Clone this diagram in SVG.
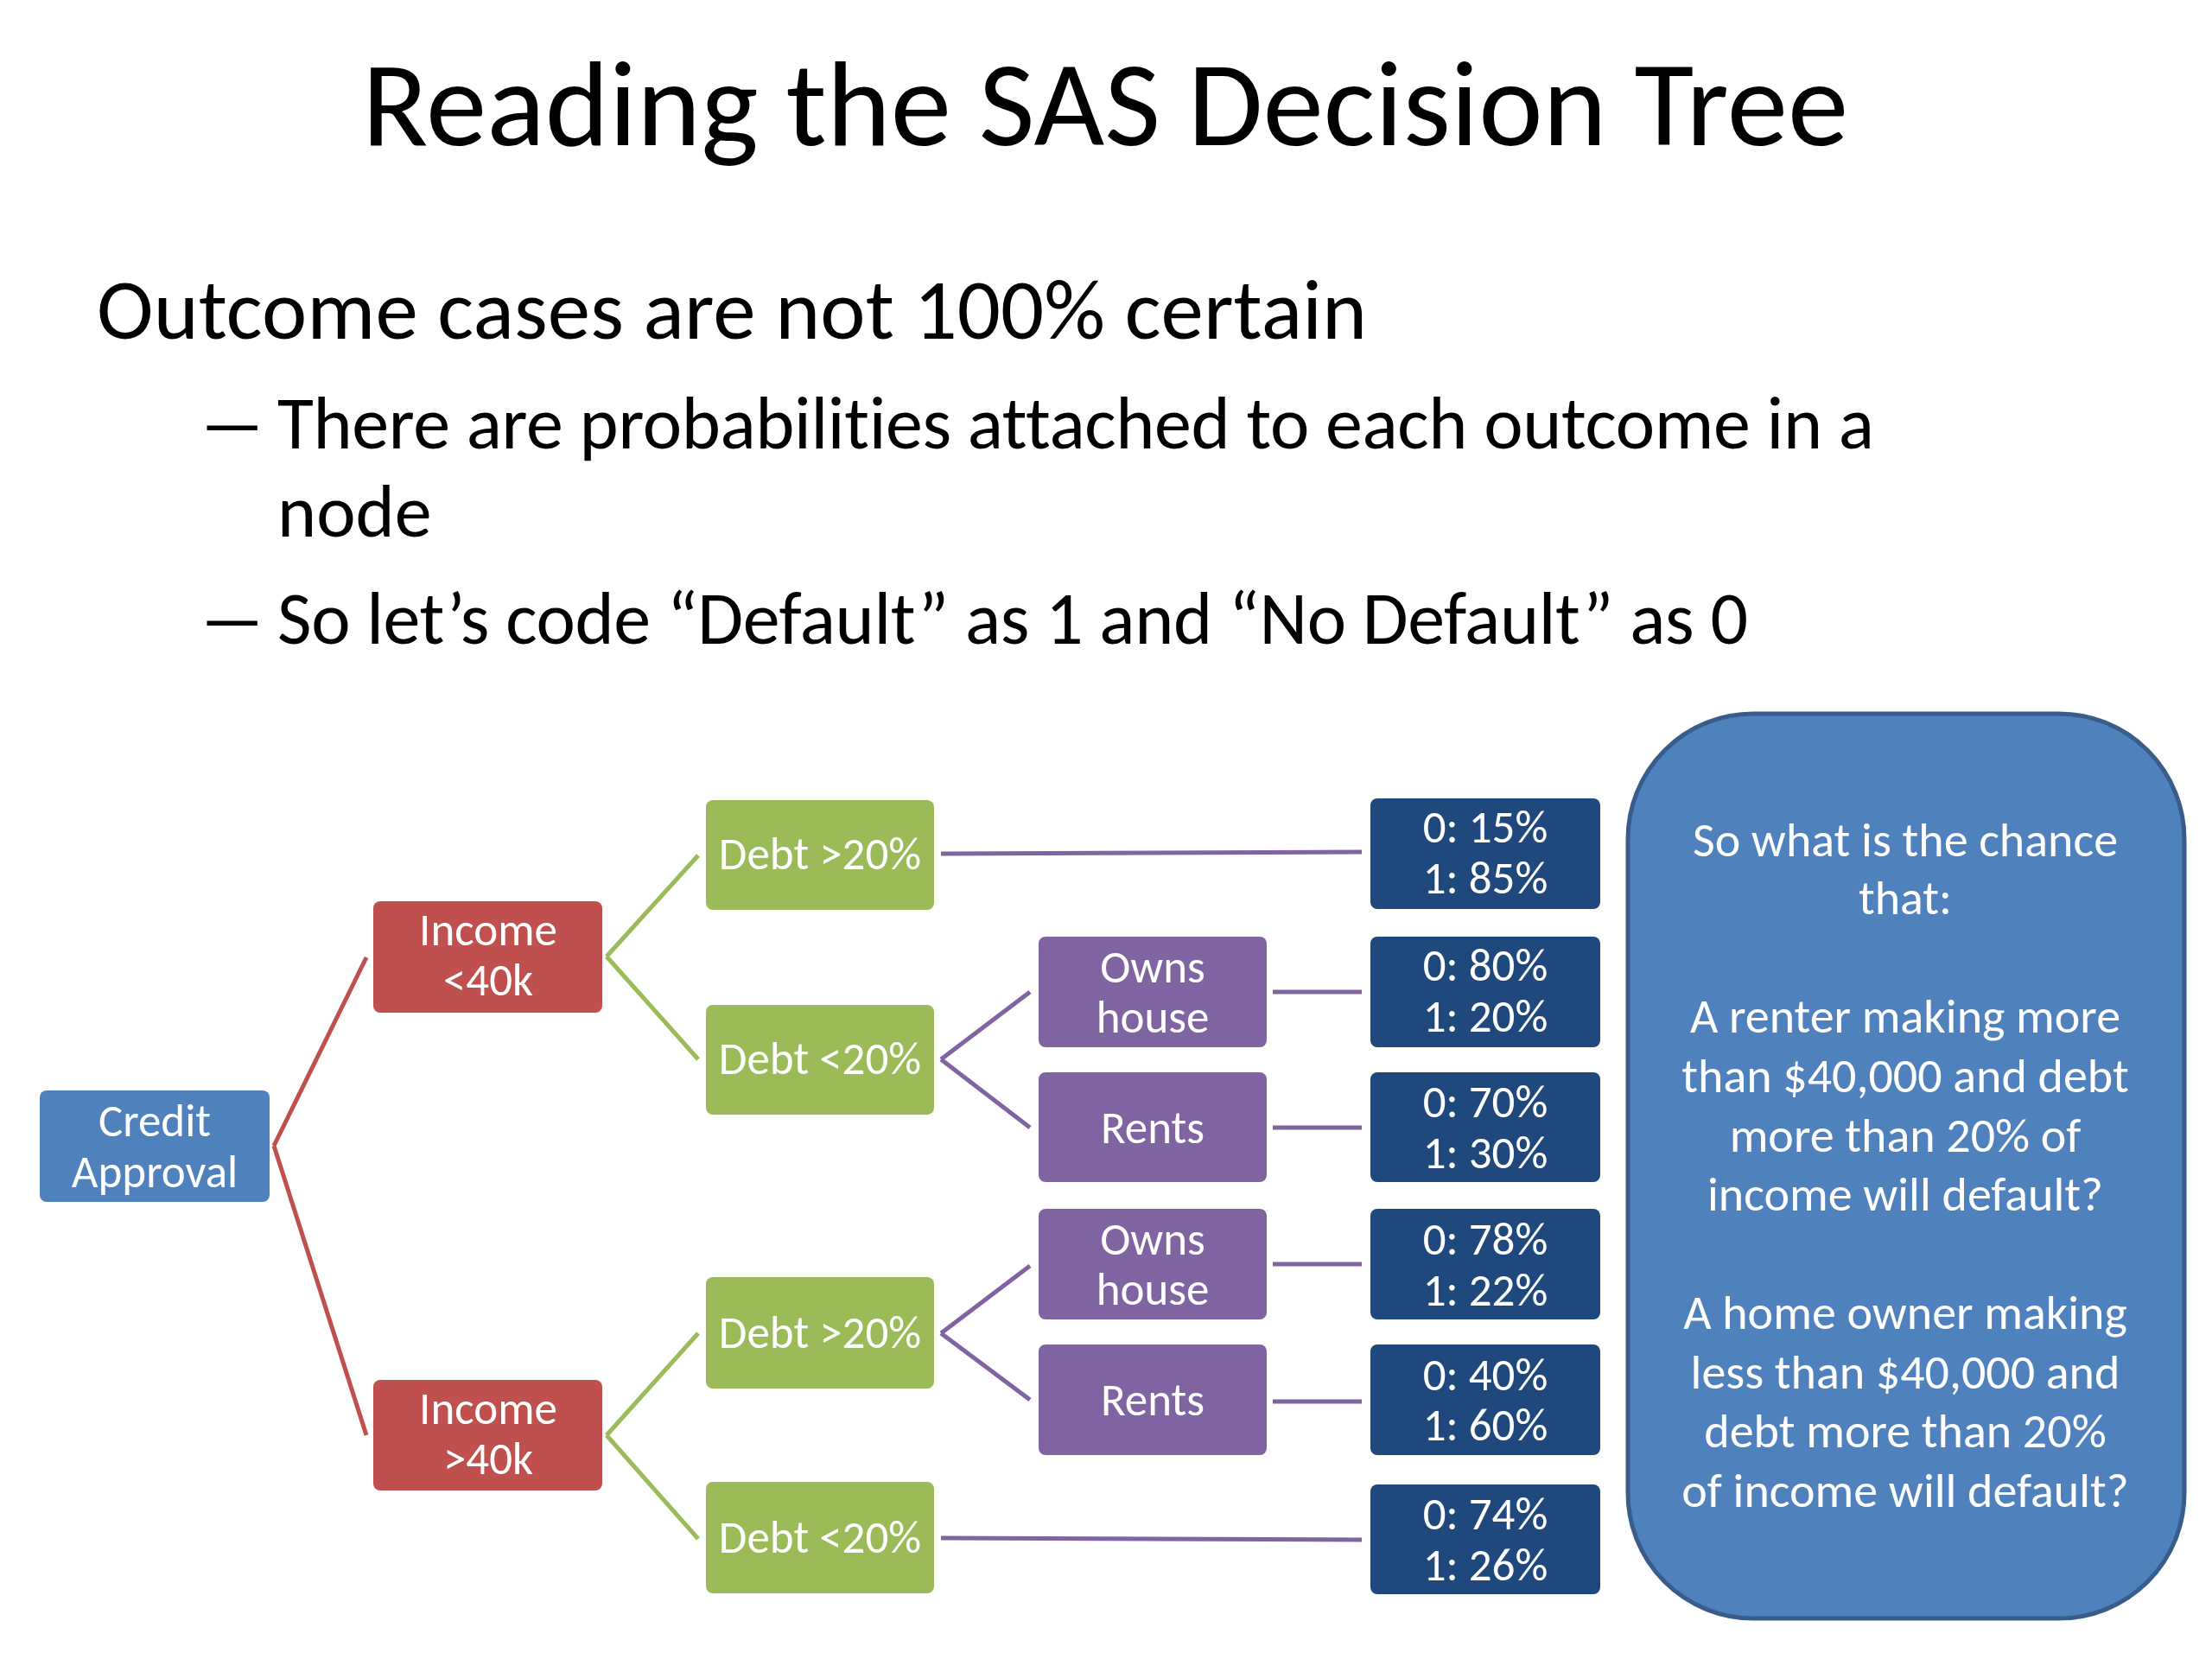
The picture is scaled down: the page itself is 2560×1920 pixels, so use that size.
<svg xmlns="http://www.w3.org/2000/svg" width="2560" height="1920" viewBox="0 0 2560 1920">
<style>
.t{font-family:Carlito,"Liberation Sans",Arial,sans-serif;fill:#000;font-variant-ligatures:none}
.n{font-family:Carlito,"Liberation Sans",Arial,sans-serif;fill:#fff;font-size:53px;text-anchor:middle}
.c{font-family:Carlito,"Liberation Sans",Arial,sans-serif;fill:#fff;font-size:56px;text-anchor:middle}
.blue{fill:#4F81BD}
.red{fill:#C0504D}
.green{fill:#9BBB59}
.purple{fill:#8064A2}
.navy{fill:#1F497D}
.lr{stroke:#C0504D;stroke-width:5;fill:none}
.lg{stroke:#9BBB59;stroke-width:5;fill:none}
.lp{stroke:#8064A2;stroke-width:5;fill:none}
</style>
<rect width="2560" height="1920" fill="#fff"/>
<g id="title">
<text class="t" x="1279" y="168" font-size="141" text-anchor="middle">Reading the SAS Decision Tree</text>
</g>
<g id="bullets">
<text class="t" x="112" y="392" font-size="99" textLength="1470">Outcome cases are not 100% certain</text>
<text class="t" font-size="86" transform="translate(228 519) scale(1.9 1)">–</text>
<text class="t" x="321" y="519" font-size="86" textLength="1848">There are probabilities attached to each outcome in a</text>
<text class="t" x="321" y="621" font-size="86">node</text>
<text class="t" font-size="86" transform="translate(228 745) scale(1.9 1)">–</text>
<text class="t" x="321" y="745" font-size="86" textLength="1702">So let’s code “Default” as 1 and “No Default” as 0</text>
</g>
<g id="connectors">
<path class="lr" d="M317 1326 L424 1108 M317 1326 L424 1661"/>
<path class="lg" d="M702 1107 L808 990 M702 1107 L808 1226 M702 1661 L808 1543 M702 1661 L808 1781"/>
<path class="lp" d="M1089 1226 L1192 1148 M1089 1226 L1192 1305 M1089 1543 L1192 1465 M1089 1543 L1192 1620"/>
<path class="lp" d="M1089 988 L1576 986 M1473 1148 L1576 1148 M1473 1305 L1576 1305 M1473 1463 L1576 1463 M1473 1622 L1576 1622 M1089 1780 L1576 1782"/>
</g>
<g id="credit-approval">
<rect class="blue" x="46" y="1262" width="266" height="129" rx="8"/>
<text class="n" x="179" y="1315">Credit</text>
<text class="n" x="179" y="1374">Approval</text>
</g>
<g id="income-lt-40k">
<rect class="red" x="432" y="1043" width="265" height="129" rx="8"/>
<text class="n" x="565" y="1094">Income</text>
<text class="n" x="565" y="1152">&lt;40k</text>
</g>
<g id="income-gt-40k">
<rect class="red" x="432" y="1597" width="265" height="128" rx="8"/>
<text class="n" x="565" y="1648">Income</text>
<text class="n" x="565" y="1706">&gt;40k</text>
</g>
<g id="debt-gt-20-a">
<rect class="green" x="817" y="926" width="264" height="127" rx="8"/>
<text class="n" x="949" y="1006">Debt &gt;20%</text>
</g>
<g id="debt-lt-20-a">
<rect class="green" x="817" y="1163" width="264" height="127" rx="8"/>
<text class="n" x="949" y="1243">Debt &lt;20%</text>
</g>
<g id="debt-gt-20-b">
<rect class="green" x="817" y="1478" width="264" height="129" rx="8"/>
<text class="n" x="949" y="1560">Debt &gt;20%</text>
</g>
<g id="debt-lt-20-b">
<rect class="green" x="817" y="1715" width="264" height="129" rx="8"/>
<text class="n" x="949" y="1797">Debt &lt;20%</text>
</g>
<g id="owns-house-a">
<rect class="purple" x="1202" y="1084" width="264" height="128" rx="8"/>
<text class="n" x="1334" y="1137">Owns</text>
<text class="n" x="1334" y="1195">house</text>
</g>
<g id="rents-a">
<rect class="purple" x="1202" y="1241" width="264" height="127" rx="8"/>
<text class="n" x="1334" y="1323">Rents</text>
</g>
<g id="owns-house-b">
<rect class="purple" x="1202" y="1399" width="264" height="128" rx="8"/>
<text class="n" x="1334" y="1452">Owns</text>
<text class="n" x="1334" y="1510">house</text>
</g>
<g id="rents-b">
<rect class="purple" x="1202" y="1556" width="264" height="128" rx="8"/>
<text class="n" x="1334" y="1638">Rents</text>
</g>
<g id="outcome-1">
<rect class="navy" x="1586" y="924" width="266" height="128" rx="8"/>
<text class="n" x="1719" y="975">0: 15%</text>
<text class="n" x="1719" y="1034">1: 85%</text>
</g>
<g id="outcome-2">
<rect class="navy" x="1586" y="1084" width="266" height="128" rx="8"/>
<text class="n" x="1719" y="1135">0: 80%</text>
<text class="n" x="1719" y="1194">1: 20%</text>
</g>
<g id="outcome-3">
<rect class="navy" x="1586" y="1241" width="266" height="127" rx="8"/>
<text class="n" x="1719" y="1293">0: 70%</text>
<text class="n" x="1719" y="1352">1: 30%</text>
</g>
<g id="outcome-4">
<rect class="navy" x="1586" y="1399" width="266" height="128" rx="8"/>
<text class="n" x="1719" y="1452">0: 78%</text>
<text class="n" x="1719" y="1511">1: 22%</text>
</g>
<g id="outcome-5">
<rect class="navy" x="1586" y="1556" width="266" height="128" rx="8"/>
<text class="n" x="1719" y="1609">0: 40%</text>
<text class="n" x="1719" y="1667">1: 60%</text>
</g>
<g id="outcome-6">
<rect class="navy" x="1586" y="1718" width="266" height="127" rx="8"/>
<text class="n" x="1719" y="1770">0: 74%</text>
<text class="n" x="1719" y="1829">1: 26%</text>
</g>
<g id="question-box">
<rect x="1884" y="826" width="644" height="1047" rx="145" fill="#4F81BD" stroke="#385D8A" stroke-width="5"/>
<text class="c" x="2205" y="991">So what is the chance</text>
<text class="c" x="2205" y="1058">that:</text>
<text class="c" x="2205" y="1195">A renter making more</text>
<text class="c" x="2205" y="1264">than $40,000 and debt</text>
<text class="c" x="2205" y="1333">more than 20% of</text>
<text class="c" x="2205" y="1401">income will default?</text>
<text class="c" x="2205" y="1538">A home owner making</text>
<text class="c" x="2205" y="1607">less than $40,000 and</text>
<text class="c" x="2205" y="1675">debt more than 20%</text>
<text class="c" x="2205" y="1744">of income will default?</text>
</g>
</svg>
